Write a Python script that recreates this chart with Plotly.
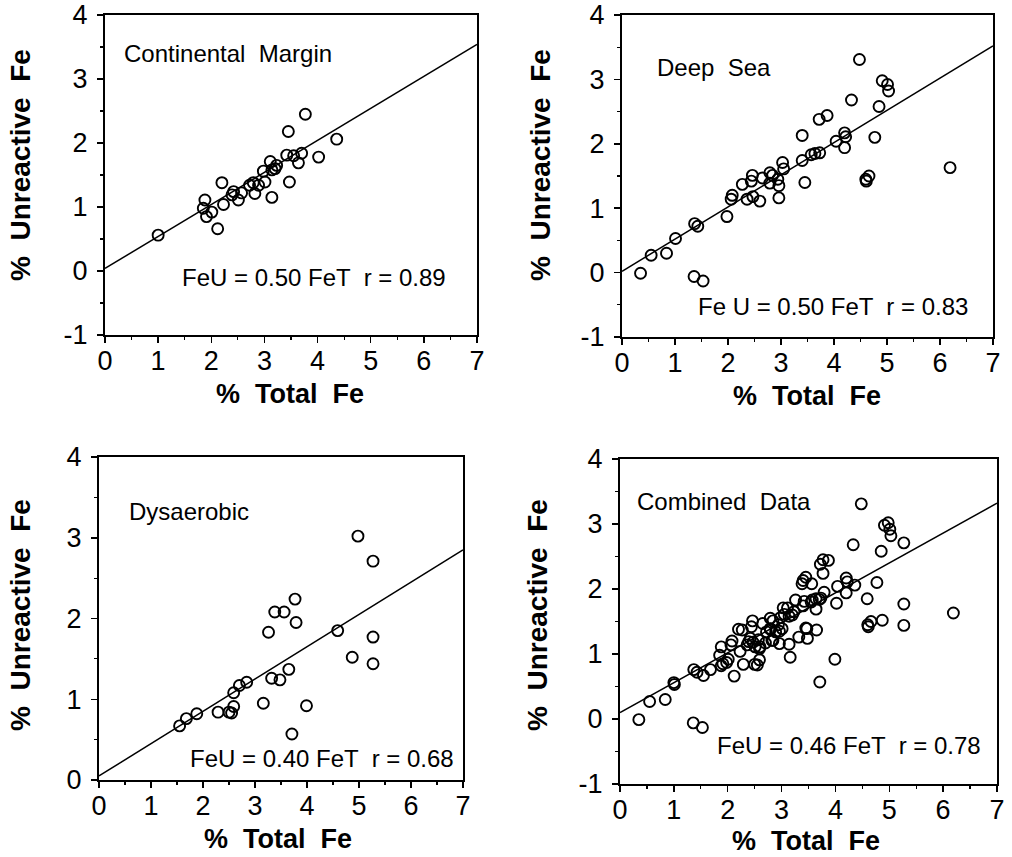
import plotly.graph_objects as go

W, H = 1012, 857

# ---------------- data ----------------
cm_x = [1.00, 1.88, 1.85, 1.91, 2.01, 2.12, 2.20, 2.23, 2.42, 2.39, 2.51, 2.57, 2.72, 2.82, 2.79, 2.89,
        3.01, 2.98, 3.11, 3.14, 3.14, 3.23, 3.20, 3.45, 3.42, 3.47, 3.55, 3.64, 3.70, 3.77, 4.02, 4.36]
cm_y = [0.56, 1.11, 0.98, 0.85, 0.92, 0.66, 1.38, 1.04, 1.24, 1.19, 1.11, 1.22, 1.34, 1.21, 1.38, 1.34,
        1.39, 1.56, 1.71, 1.58, 1.15, 1.65, 1.60, 2.18, 1.81, 1.39, 1.80, 1.69, 1.84, 2.45, 1.78, 2.06]

ds_x = [0.35, 0.55, 0.84, 1.01, 1.37, 1.43, 1.36, 1.53, 1.98, 2.08, 2.06, 2.27, 2.36, 2.46, 2.44, 2.47,
        2.60, 2.65, 2.79, 2.79, 2.84, 2.94, 2.96, 2.96, 3.03, 3.05, 3.40, 3.40, 3.45, 3.57, 3.64, 3.73,
        3.72, 3.87, 4.04, 4.20, 4.22, 4.20, 4.33, 4.48, 4.60, 4.66, 4.61, 4.77, 4.85, 4.91, 5.01, 5.03, 6.19]
ds_y = [-0.01, 0.27, 0.30, 0.53, 0.76, 0.72, -0.06, -0.13, 0.87, 1.20, 1.14, 1.37, 1.14, 1.51, 1.42, 1.18,
        1.11, 1.47, 1.55, 1.39, 1.51, 1.45, 1.35, 1.16, 1.71, 1.61, 2.13, 1.74, 1.40, 1.83, 1.85, 1.86,
        2.38, 2.44, 2.04, 2.17, 2.11, 1.94, 2.68, 3.31, 1.45, 1.50, 1.42, 2.10, 2.58, 2.98, 2.92, 2.82, 1.63]

dy_x = [1.55, 1.68, 1.88, 2.29, 2.50, 2.55, 2.59, 2.59, 2.70, 2.84, 3.16, 3.26, 3.32, 3.38, 3.48, 3.56,
        3.65, 3.71, 3.77, 3.79, 3.99, 4.59, 4.87, 4.98, 5.27, 5.27, 5.27]
dy_y = [0.67, 0.76, 0.82, 0.84, 0.84, 0.83, 0.91, 1.08, 1.17, 1.21, 0.95, 1.83, 1.26, 2.08, 1.24, 2.08,
        1.37, 0.57, 2.24, 1.95, 0.92, 1.85, 1.52, 3.02, 2.71, 1.77, 1.44]

# combined panel shows all three data sets together
comb_x = cm_x + ds_x + dy_x
comb_y = cm_y + ds_y + dy_y

panel_names = ["Continental\u00a0 Margin", "Deep\u00a0 Sea", "Dysaerobic", "Combined\u00a0 Data"]
equations = ["FeU = 0.50 FeT \u00a0r = 0.89", "Fe U = 0.50 FeT \u00a0r = 0.83",
             "FeU = 0.40 FeT \u00a0r = 0.68", "FeU = 0.46 FeT \u00a0r = 0.78"]
fit_intercepts = [0.04, 0.02, 0.05, 0.10]
fit_slopes = [0.50, 0.50, 0.40, 0.46]
y_ranges = [(-1, 4), (-1, 4), (0, 4), (-1, 4)]
x_ticks = [0, 1, 2, 3, 4, 5, 6, 7]
x_title = "%\u00a0 Total\u00a0 Fe"
y_title = "%\u00a0 Unreactive\u00a0 Fe"

# ---------------- layout geometry (pixels) ----------------
boxes = [(105, 477, 15, 335), (622, 993, 15, 337), (99, 463, 457, 780), (620, 997, 459, 784)]
name_pos = [(0.32, 3.40), (0.62, 3.18), (0.54, 3.32), (0.28, 3.34)]
eq_pos = [(1.41, -0.10), (1.40, -0.52), (1.71, 0.27), (1.76, -0.40)]
ytitle_pos = [(21, 165), (541, 165), (20, 615), (537, 615)]
xtitle_pos = [(290, 394), (807, 396), (278, 839), (806, 841)]

FONT = "Liberation Sans, Arial, Helvetica, sans-serif"

xs = [cm_x, ds_x, dy_x, comb_x]
ys = [cm_y, ds_y, dy_y, comb_y]

fig = go.Figure()
layout = dict(template="none", width=W, height=H, margin=dict(l=0, r=0, t=0, b=0, pad=0),
              paper_bgcolor="white", plot_bgcolor="white", showlegend=False,
              font=dict(family=FONT, color="black"))
annotations = []

for i in range(4):
    n = "" if i == 0 else str(i + 1)
    xa, ya = "x" + n, "y" + n
    x0, x1, y0, y1 = boxes[i]
    fig.add_trace(go.Scatter(x=[0, 7], y=[fit_intercepts[i], fit_intercepts[i] + 7 * fit_slopes[i]],
                             mode="lines", line=dict(color="black", width=1.5),
                             xaxis=xa, yaxis=ya, hoverinfo="skip"))
    fig.add_trace(go.Scatter(x=xs[i], y=ys[i], mode="markers",
                             marker=dict(symbol="circle-open", size=11, color="black",
                                         line=dict(width=1.9, color="black")),
                             xaxis=xa, yaxis=ya))
    lo, hi = y_ranges[i]
    yt = list(range(lo, hi + 1))
    layout["xaxis" + n] = dict(
        domain=[x0 / W, x1 / W], range=[0, 7], anchor=ya, automargin=False,
        tickvals=x_ticks, ticktext=[str(v) for v in x_ticks], ticklabeloverflow="allow",
        ticklabelstandoff=-5,
        ticks="outside", ticklen=6, tickwidth=1.5, tickcolor="black",
        minor=dict(dtick=0.5, tick0=0, ticks="outside", ticklen=3, tickwidth=1.2, tickcolor="black"),
        showline=True, linecolor="black", linewidth=2, mirror=True,
        showgrid=False, zeroline=False, fixedrange=True,
        tickfont=dict(size=27, family=FONT, color="black"))
    layout["yaxis" + n] = dict(
        domain=[1 - y1 / H, 1 - y0 / H], range=[lo, hi], anchor=xa, automargin=False,
        tickvals=yt, ticktext=[str(v) for v in yt], ticklabeloverflow="allow",
        ticklabelstandoff=4,
        ticks="outside", ticklen=6, tickwidth=1.5, tickcolor="black",
        minor=dict(dtick=0.5, tick0=0, ticks="outside", ticklen=3, tickwidth=1.2, tickcolor="black"),
        showline=True, linecolor="black", linewidth=2, mirror=True,
        showgrid=False, zeroline=False, fixedrange=True,
        tickfont=dict(size=27, family=FONT, color="black"))
    annotations.append(dict(x=name_pos[i][0], y=name_pos[i][1], xref=xa, yref=ya,
                            text=panel_names[i], showarrow=False, xanchor="left", yanchor="middle",
                            font=dict(size=24, family=FONT, color="black")))
    annotations.append(dict(x=eq_pos[i][0], y=eq_pos[i][1], xref=xa, yref=ya,
                            text=equations[i], showarrow=False, xanchor="left", yanchor="middle",
                            font=dict(size=24, family=FONT, color="black")))
    annotations.append(dict(x=ytitle_pos[i][0] / W, y=1 - ytitle_pos[i][1] / H, xref="paper", yref="paper",
                            text="<b>" + y_title + "</b>", showarrow=False, textangle=-90,
                            xanchor="center", yanchor="middle",
                            font=dict(size=28, family=FONT, color="black")))
    annotations.append(dict(x=xtitle_pos[i][0] / W, y=1 - xtitle_pos[i][1] / H, xref="paper", yref="paper",
                            text="<b>" + x_title + "</b>", showarrow=False,
                            xanchor="center", yanchor="middle",
                            font=dict(size=27, family=FONT, color="black")))

layout["annotations"] = annotations
fig.update_layout(**layout)
fig.write_html("out.html", config={"displayModeBar": False, "staticPlot": True},
               post_script="document.body.style.margin='0px';document.body.style.padding='0px';")
